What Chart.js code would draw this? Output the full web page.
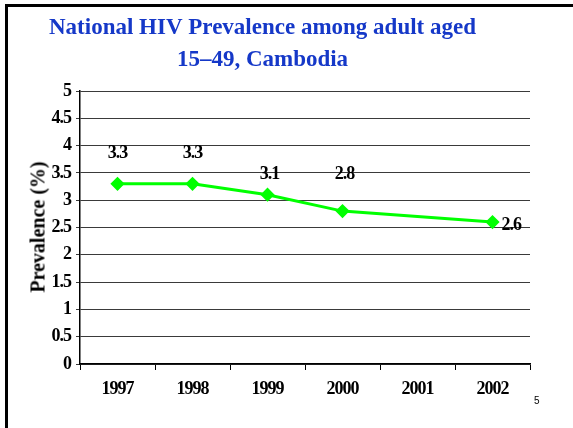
<!DOCTYPE html>
<html lang="en">
<head>
  <meta charset="UTF-8">
  <meta name="viewport" content="width=device-width, initial-scale=1.0">
  <title>National HIV Prevalence among adult aged 15-49, Cambodia</title>
  <script src="https://cdn.jsdelivr.net/npm/chart.js"></script>
  <style>
    html, body {
      margin: 0;
      background: #fff;
      overflow: hidden;
    }
    .slide {
      position: relative;
      width: 573px;
      height: 428px;
      overflow: hidden;
    }
    .frame {
      position: absolute;
      left: 5px;
      top: 4px;
      width: 620px;
      height: 480px;
      border-top: 3px solid #000;
      border-left: 3px solid #000;
    }
    .ytitle {
      position: absolute;
      left: 38px;
      top: 227px;
      transform: translate(-50%, -50%) rotate(-90deg);
      font-family: "Liberation Serif", "Times New Roman", serif;
      font-weight: bold;
      font-size: 20px;
      white-space: nowrap;
      color: #000;
    }
    .pagenum {
      position: absolute;
      left: 534px;
      top: 395px;
      font-family: "Liberation Sans", Arial, sans-serif;
      font-size: 10px;
      color: #000;
    }
    canvas {
      position: absolute;
      left: 0;
      top: 0;
    }
  </style>
</head>
<body>
  <div class="slide">
    <div class="frame"></div>
    <canvas id="chart" width="573" height="428"></canvas>
    <div class="ytitle">Prevalence (%)</div>
    <div class="pagenum">5</div>
  </div>

  <script>
    const titleLines = ["National HIV Prevalence among adult aged", "15–49, Cambodia"];
    const years = ["1997", "1998", "1999", "2000", "2001", "2002"];
    const prevalence = [3.3, 3.3, 3.1, 2.8, null, 2.6];
    const yTicks = ["0", "0.5", "1", "1.5", "2", "2.5", "3", "3.5", "4", "4.5", "5"];

    // where each value label sits relative to its point
    const labelShift = [[0, -30], [0, -30], [2, -20], [2, -37], null, [9, 3]];

    const serif = "'Liberation Serif', 'Times New Roman', serif";

    // the original text is a bit squeezed
    const condensed = {
      id: "condensed",
      beforeDraw(chart) { chart.ctx.letterSpacing = "-1px"; },
      afterDraw(chart) { chart.ctx.letterSpacing = "0px"; }
    };

    // slide title, centred a little left of the canvas middle like the original
    const slideTitle = {
      id: "slideTitle",
      afterDraw(chart) {
        const ctx = chart.ctx;
        ctx.save();
        ctx.letterSpacing = "0px";
        ctx.font = "bold 23px " + serif;
        ctx.fillStyle = "#1538c8";
        ctx.textAlign = "center";
        ctx.textBaseline = "middle";
        titleLines.forEach((t, i) => ctx.fillText(t, 262.5, 28 + i * 32));
        ctx.restore();
      }
    };

    const valueLabels = {
      id: "valueLabels",
      afterDatasetsDraw(chart) {
        const ctx = chart.ctx;
        const meta = chart.getDatasetMeta(0);
        ctx.save();
        ctx.letterSpacing = "-1px";
        ctx.font = "bold 18px " + serif;
        ctx.fillStyle = "#000";
        ctx.textBaseline = "middle";
        meta.data.forEach((pt, i) => {
          const v = prevalence[i];
          const s = labelShift[i];
          if (v == null || !s) return;
          ctx.textAlign = i === prevalence.length - 1 ? "left" : "center";
          ctx.fillText(v.toFixed(1), pt.x + s[0], pt.y + s[1]);
        });
        ctx.restore();
      }
    };

    new Chart(document.getElementById("chart"), {
      type: "line",
      data: {
        labels: years,
        datasets: [{
          label: "Prevalence",
          data: prevalence,
          borderColor: "#00ff00",
          borderWidth: 3,
          backgroundColor: "#00ff00",
          pointStyle: "rectRot",
          pointRadius: 5,
          pointBackgroundColor: "#00ff00",
          pointBorderColor: "#00ff00",
          spanGaps: true,
          tension: 0
        }]
      },
      options: {
        responsive: false,
        animation: false,
        layout: { padding: { left: 20, right: 43, top: 91, bottom: 0 } },
        plugins: {
          legend: { display: false },
          tooltip: { enabled: false },
          title: { display: false }
        },
        scales: {
          x: {
            offset: true,
            grid: {
              offset: true,
              drawOnChartArea: false,
              drawTicks: true,
              tickLength: 6,
              color: "#000"
            },
            border: { color: "#000", width: 1.5 },
            ticks: {
              color: "#000",
              padding: 9,
              maxRotation: 0,
              font: { family: serif, size: 18, weight: "bold" }
            },
            afterFit(scale) { scale.height = 64; }
          },
          y: {
            min: 0,
            max: 5,
            ticks: {
              stepSize: 0.5,
              color: "#000",
              padding: 5,
              font: { family: serif, size: 18, weight: "bold" },
              callback: (v, i) => yTicks[i]
            },
            grid: {
              color: "#3a3a3a",
              lineWidth: 1,
              drawTicks: true,
              tickLength: 4
            },
            border: { color: "#000", width: 1.5 },
            afterFit(scale) { scale.width = 60; }
          }
        }
      },
      plugins: [condensed, valueLabels, slideTitle]
    });
  </script>
</body>
</html>
